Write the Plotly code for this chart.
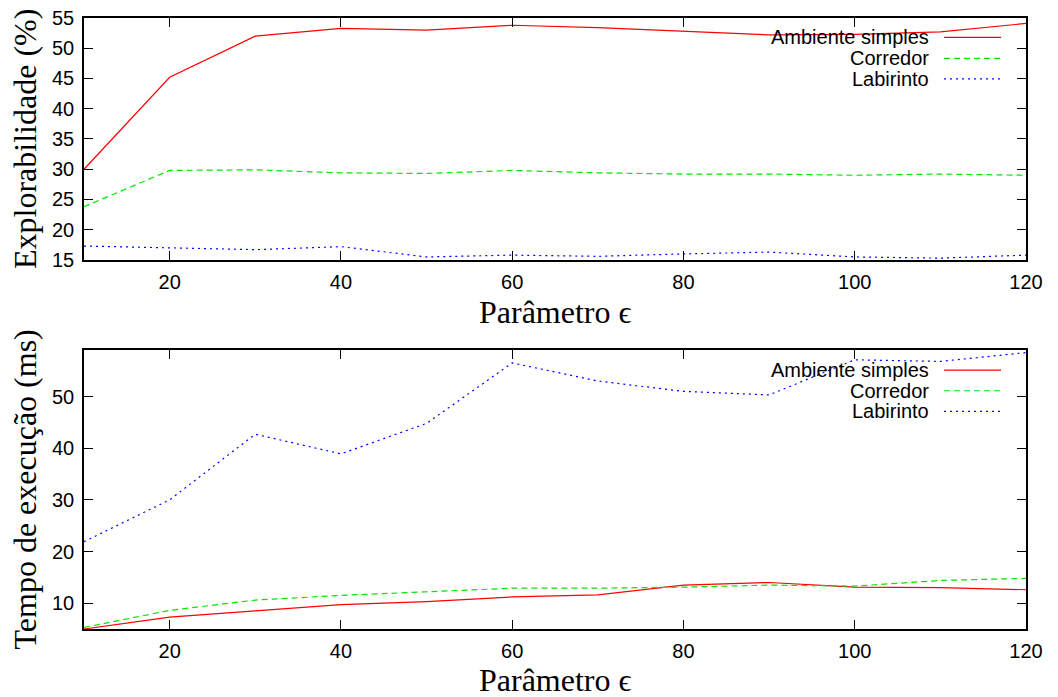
import plotly.graph_objects as go
from plotly.subplots import make_subplots

# ---- data ----
eps = [10, 20, 30, 40, 50, 60, 70, 80, 90, 100, 110, 120]
series_names = ["Ambiente simples", "Corredor", "Labirinto"]

expl_simples = [30.0, 45.2, 52.0, 53.3, 53.0, 53.8, 53.4, 52.8, 52.2, 52.3, 52.7, 54.1]
expl_corredor = [23.8, 29.8, 29.9, 29.4, 29.3, 29.8, 29.4, 29.2, 29.2, 29.0, 29.2, 29.0]
expl_labirinto = [17.3, 17.0, 16.7, 17.2, 15.5, 15.8, 15.6, 16.0, 16.3, 15.5, 15.3, 15.8]

tempo_simples = [5.0, 7.3, 8.5, 9.7, 10.3, 11.2, 11.6, 13.5, 14.0, 13.1, 13.0, 12.6]
tempo_corredor = [5.3, 8.6, 10.6, 11.5, 12.2, 12.9, 12.9, 13.1, 13.5, 13.3, 14.4, 14.8]
tempo_labirinto = [21.9, 30.0, 42.7, 38.9, 44.8, 56.5, 53.0, 51.0, 50.3, 57.1, 56.8, 58.5]

x_ticks = [20, 40, 60, 80, 100, 120]
y1_ticks = [15, 20, 25, 30, 35, 40, 45, 50, 55]
y2_ticks = [10, 20, 30, 40, 50]

# ---- styles ----
colors = ["#ff0000", "#00e600", "#0000ff"]
dashes = ["solid", "6px,4px", "2px,4px"]
tick_font = dict(family="Liberation Sans, Arial, sans-serif", size=20, color="black")
title_font = dict(family="Liberation Serif, Times New Roman, serif", size=32, color="black")

fig = make_subplots(rows=2, cols=1, vertical_spacing=0.0)

top = [expl_simples, expl_corredor, expl_labirinto]
bot = [tempo_simples, tempo_corredor, tempo_labirinto]
for i, name in enumerate(series_names):
    fig.add_trace(go.Scatter(x=eps, y=top[i], mode="lines", name=name, showlegend=False,
                             line=dict(color=colors[i], width=1.2, dash=dashes[i])), row=1, col=1)
    fig.add_trace(go.Scatter(x=eps, y=bot[i], mode="lines", name=name, showlegend=False,
                             line=dict(color=colors[i], width=1.2, dash=dashes[i])), row=2, col=1)

axis_common = dict(showline=True, linecolor="black", linewidth=1.5, mirror="ticks",
                   ticks="inside", ticklen=9, tickwidth=1, tickcolor="black",
                   showgrid=False, zeroline=False, tickfont=tick_font, automargin=False,
                   ticklabeloverflow="allow")

fig.update_xaxes(range=[10, 120], tickvals=x_ticks, domain=[0, 1], ticklabelstandoff=3, **axis_common)
fig.update_yaxes(range=[15, 55], tickvals=y1_ticks, domain=[0.604, 1.0], row=1, col=1,
                 ticklabelstandoff=4, **axis_common)
fig.update_yaxes(range=[5, 59], tickvals=y2_ticks, domain=[0.0, 0.4566], row=2, col=1,
                 ticklabelstandoff=4, **axis_common)

annotations = []
shapes = []

# axis titles
for xr, yr, ytitle, ysh in [("x", "y", "Explorabilidade (%)", -52), ("x2", "y2", "Tempo de execução (ms)", -51)]:
    annotations.append(dict(text="Parâmetro ϵ", xref=xr + " domain", yref=yr + " domain",
                            x=0.5, y=0, yshift=ysh, xanchor="center", yanchor="middle",
                            showarrow=False, font=title_font))
    annotations.append(dict(text=ytitle, xref=xr + " domain", yref=yr + " domain",
                            x=0, y=0.5, xshift=-59, xanchor="center", yanchor="middle",
                            textangle=-90, showarrow=False, font=title_font))

# legends (text right aligned, sample line at right)
legend_pos = {"y": [0.920, 0.8335, 0.748], "y2": [0.928, 0.854, 0.780]}
for xr, yr in [("x", "y"), ("x2", "y2")]:
    for i, name in enumerate(series_names):
        yy = legend_pos[yr][i]
        annotations.append(dict(text=name, xref=xr + " domain", yref=yr + " domain",
                                x=0.899, y=yy, xanchor="right", yanchor="middle",
                                showarrow=False, font=tick_font))
        shapes.append(dict(type="line", xref=xr + " domain", yref=yr + " domain",
                           x0=0.913, x1=0.9735, y0=yy, y1=yy,
                           line=dict(color=colors[i], width=1.2, dash=dashes[i])))

# page body has an 8px margin, so the figure is shifted and reduced by 8px
fig.update_layout(width=1050, height=689, margin=dict(l=76, r=32, t=10, b=68),
                  paper_bgcolor="white", plot_bgcolor="white",
                  annotations=annotations, shapes=shapes, showlegend=False)

fig.write_html("out.html")
